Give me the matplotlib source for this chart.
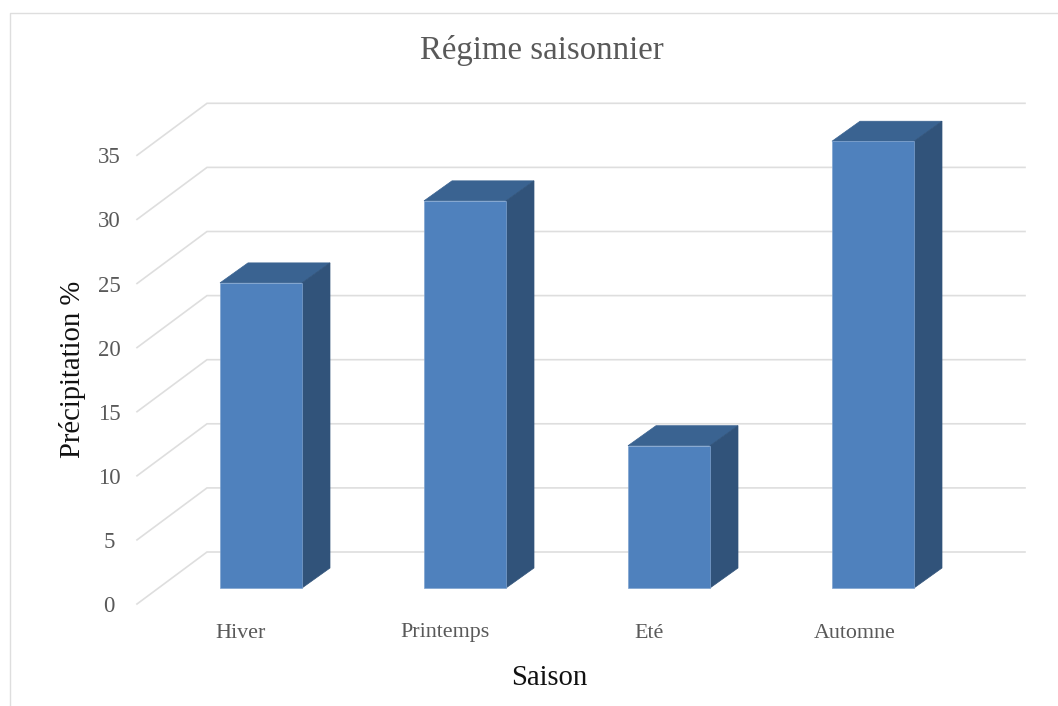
import numpy as np
import matplotlib
matplotlib.use('Agg')
import matplotlib.pyplot as plt
from matplotlib.patches import Polygon
from matplotlib.lines import Line2D

saisons = ['Hiver', 'Printemps', 'Eté', 'Automne']
precip = [23.8, 30.2, 11.1, 34.85]
yticks = [0, 5, 10, 15, 20, 25, 30, 35]

plt.rcParams['font.family'] = ['Liberation Serif', 'DejaVu Serif']

GRID = '#dedede'
FRONT = '#4f81bd'
TOP = '#3a6391'
SIDE = '#31537a'
TXT = '#595959'

# scale of the chart, in pixels
px_cat = 204.0
px_val = 64.1 / 5
x0_px = 261.0
y0_px = 588.0
W, H = 1058, 706

fig = plt.figure(figsize=(W / 100, H / 100), dpi=100)
ax = fig.add_axes([0, 0, 1, 1])
ax.set_xlim((0 - x0_px) / px_cat, (W - x0_px) / px_cat)
ax.set_ylim((y0_px - H) / px_val, y0_px / px_val)
ax.axis('off')

# 3d offsets in data units
bar_w = 82 / px_cat
dx = 28 / px_cat
dy = 20 / px_val
wall_dy = 36 / px_val
floor_dy = -16 / px_val
wall_x = (207 - x0_px) / px_cat
floor_x = (137 - x0_px) / px_cat
right_x = (1025 - x0_px) / px_cat

# gridlines, floor edge then back wall
for t in yticks:
    ax.plot([floor_x, wall_x, right_x], [t + floor_dy, t + wall_dy, t + wall_dy],
            color=GRID, lw=1.2, zorder=1, solid_joinstyle='miter')
    ax.text(floor_x - 28 / px_cat, t + floor_dy - 2.5 / px_val, str(t), ha='center', va='center',
            fontsize=16.5, color=TXT)

# bars
for i, v in enumerate(precip):
    l = i - bar_w / 2
    r = i + bar_w / 2
    ax.add_patch(Polygon([(l, 0), (r, 0), (r, v), (l, v)], fc=FRONT, ec='#7fa3cf', lw=0.5, zorder=3))
    ax.add_patch(Polygon([(l, v), (r, v), (r + dx, v + dy), (l + dx, v + dy)], fc=TOP, ec=TOP, lw=0.5, zorder=2))
    ax.add_patch(Polygon([(r, 0), (r + dx, dy), (r + dx, v + dy), (r, v)], fc=SIDE, ec=SIDE, lw=0.5, zorder=2))
    # labels sit a little left of the bar centre
    ax.text(i - (20 - (2 if i == 3 else 0)) / px_cat, (y0_px - 637.5) / px_val, saisons[i], ha='center', va='baseline',
            fontsize=15.8, color=TXT)

# titles
fig.text(541.5 / W, 1 - 51 / H, 'Régime saisonnier', ha='center', va='center', fontsize=23.7, color=TXT)
fig.text(549.5 / W, 1 - 678 / H, 'Saison', ha='center', va='center', fontsize=20.6, color='#111111')
fig.text(72 / W, 1 - 369 / H, 'Précipitation %', ha='center', va='center', rotation=90,
         fontsize=20.6, color='#111111')

# chart frame, open at right and bottom
fig.add_artist(Line2D([9.5 / W, 9.5 / W, 1], [0, 1 - 12.5 / H, 1 - 12.5 / H],
                      color=GRID, lw=1.0, transform=fig.transFigure))

fig.savefig('out.png', dpi=100)
